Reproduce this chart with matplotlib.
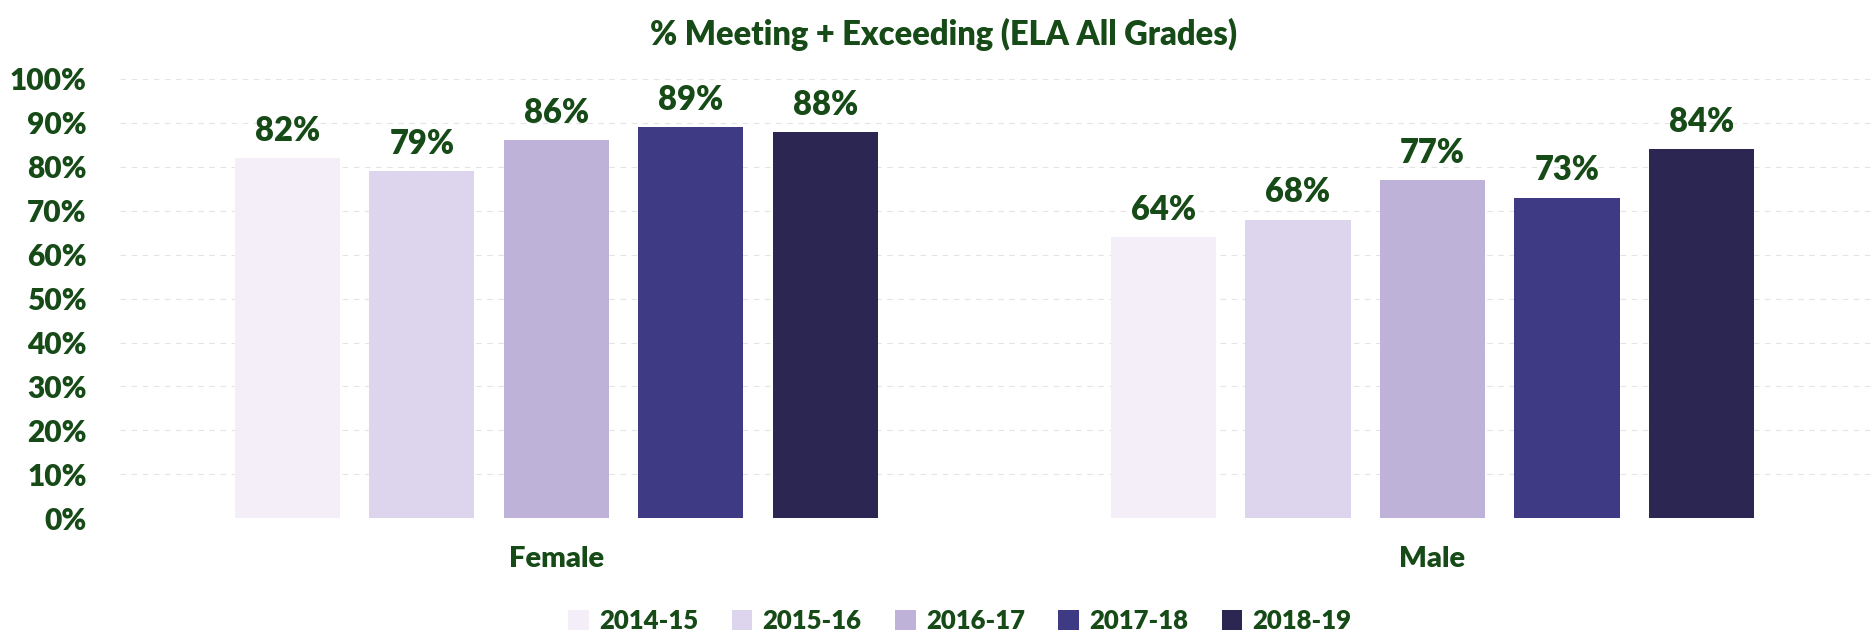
import numpy as np
import matplotlib
matplotlib.use("Agg")
import matplotlib.pyplot as plt
from matplotlib.patches import Patch

plt.rcParams['font.family'] = ['Lato', 'DejaVu Sans']
plt.rcParams['font.weight'] = 'bold'

groups = ['Female', 'Male']
years = ['2014-15', '2015-16', '2016-17', '2017-18', '2018-19']
female = [82, 79, 86, 89, 88]
male = [64, 68, 77, 73, 84]
yticks = [0, 10, 20, 30, 40, 50, 60, 70, 80, 90, 100]

colors = ['#f4eef9', '#ddd4ee', '#bfb2d9', '#3e3b84', '#2b2652']
txt = '#164a17'

fig = plt.figure(figsize=(18.75, 6.32), dpi=100)
ax = fig.add_axes([0.064, 0.18, 0.936, 0.695])

x = np.arange(len(groups))
width = 0.12
step = 0.1535
values = np.array([female, male]).T  # rows = years

for i, yr in enumerate(years):
    pos = x + (i - 2) * step
    bars = ax.bar(pos, values[i], width, color=colors[i], label=yr, zorder=2)
    for b, v in zip(bars, values[i]):
        ax.annotate(f'{v}%', (b.get_x() + b.get_width() / 2, v),
                    xytext=(0, 8), textcoords='offset points',
                    ha='center', va='bottom', fontsize=23.5,
                    color=txt, fontweight='heavy')

ax.set_xlim(-0.498, 1.505)
ax.set_ylim(0, 100)
ax.set_yticks(yticks)
ax.set_yticklabels([f'{t}%' for t in yticks], fontsize=21.5, color=txt, fontweight='heavy')
ax.set_xticks(x)
ax.set_xticklabels(groups, fontsize=21, color=txt, fontweight='heavy')
ax.tick_params(axis='both', length=0)
ax.tick_params(axis='x', pad=20)
ax.tick_params(axis='y', pad=24)
ax.grid(axis='y', color='#e4e4e4', linewidth=0.8, linestyle=(0, (5, 5)), zorder=0)
for s in ax.spines.values():
    s.set_visible(False)

fig.text(0.503, 0.945, '% Meeting + Exceeding (ELA All Grades)', ha='center', va='center',
         fontsize=23.5, color=txt, fontweight='heavy')

handles = [Patch(facecolor=c, label=y) for c, y in zip(colors, years)]
fig.legend(handles=handles, loc='center', bbox_to_anchor=(0.512, 0.018), ncol=5,
           frameon=False, handlelength=0.8, handleheight=0.8,
           columnspacing=1.3, handletextpad=0.4, labelcolor=txt,
           prop={'weight': 'heavy', 'size': 18.5})

plt.savefig('out.png', dpi=100)
plt.close()
